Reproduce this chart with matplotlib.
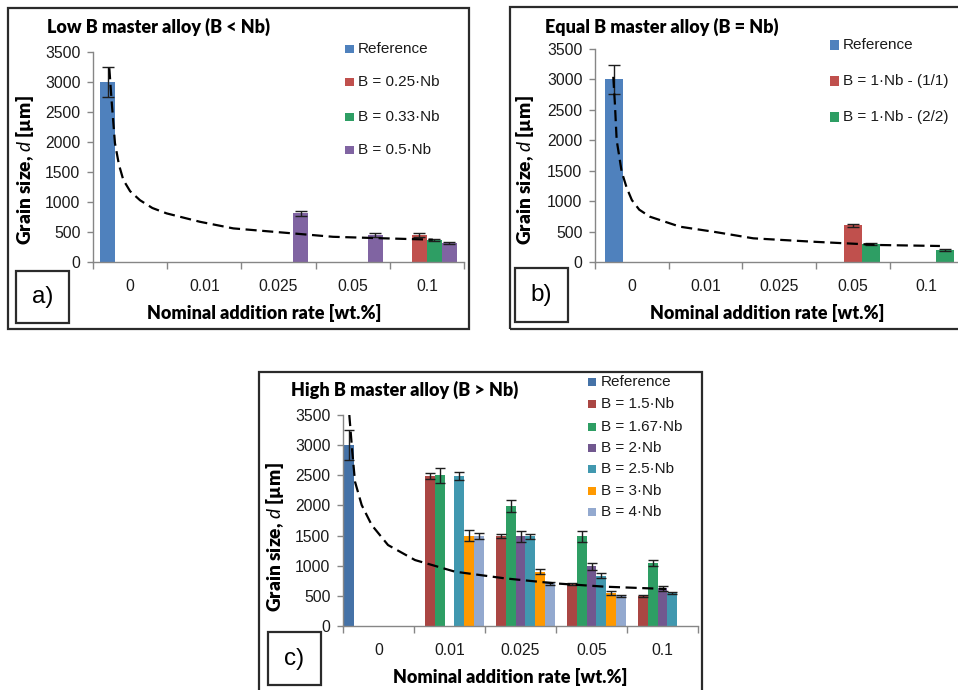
import numpy as np
import matplotlib
matplotlib.use("Agg")
import matplotlib.pyplot as plt
from matplotlib.patches import Rectangle

# ---------------- data ----------------
categories = ["0", "0.01", "0.025", "0.05", "0.1"]
y_ticks = [0, 500, 1000, 1500, 2000, 2500, 3000, 3500]

# Panel a: Low B master alloy
a_labels = ["Reference", "B = 0.25·Nb", "B = 0.33·Nb", "B = 0.5·Nb"]
a_ref = [3000, None, None, None, None]
a_ref_err = [245, None, None, None, None]
a_b025 = [None, None, None, None, 450]
a_b025_err = [None, None, None, None, 30]
a_b033 = [None, None, None, None, 370]
a_b033_err = [None, None, None, None, 20]
a_b05 = [None, None, 810, 450, 320]
a_b05_err = [None, None, 45, 35, 20]
a_trend_x = [-0.28, -0.25, -0.204, -0.15, -0.092, 0.0, 0.133, 0.3, 0.493, 0.942, 1.391, 2.065, 2.735, 3.408, 4.08]
a_trend_y = [3230, 2700, 1980, 1620, 1370, 1180, 1030, 900, 810, 670, 560, 490, 420, 395, 372]

# Panel b: Equal B master alloy
b_labels = ["Reference", "B = 1·Nb - (1/1)", "B = 1·Nb - (2/2)"]
b_ref = [3000, None, None, None, None]
b_ref_err = [245, None, None, None, None]
b_11 = [None, None, None, 605, None]
b_11_err = [None, None, None, 25, None]
b_22 = [None, None, None, 295, 198]
b_22_err = [None, None, None, 15, 12]
b_trend_x = [-0.252, -0.23, -0.206, -0.138, -0.07, 0.0, 0.1, 0.246, 0.653, 1.105, 1.648, 2.462, 3.367, 4.18]
b_trend_y = [3043, 2600, 2003, 1483, 1220, 1018, 860, 744, 580, 498, 389, 333, 279, 263]

# Panel c: High B master alloy
c_labels = ["Reference", "B = 1.5·Nb", "B = 1.67·Nb", "B = 2·Nb", "B = 2.5·Nb", "B = 3·Nb", "B = 4·Nb"]
c_ref = [3000, None, None, None, None]
c_ref_err = [250, None, None, None, None]
c_b15 = [None, 2490, 1490, 692, 495]
c_b15_err = [None, 50, 30, 20, 12]
c_b167 = [None, 2500, 1995, 1490, 1040]
c_b167_err = [None, 120, 100, 90, 50]
c_b2 = [None, None, 1490, 988, 628]
c_b2_err = [None, None, 90, 65, 40]
c_b25 = [None, 2490, 1490, 832, 545]
c_b25_err = [None, 70, 40, 40, 20]
c_b3 = [None, 1495, 898, 548, None]
c_b3_err = [None, 90, 40, 35, None]
c_b4 = [None, 1490, 705, 497, None]
c_b4_err = [None, 55, 30, 10, None]
c_trend_x = [-0.411, -0.37, -0.331, -0.237, -0.096, 0.134, 0.514, 1.077, 1.782, 2.486, 3.19, 4.05]
c_trend_y = [3500, 2900, 2394, 2007, 1675, 1343, 1094, 901, 790, 707, 652, 614]

# ---------------- styling ----------------
W, H = 958, 690
fig = plt.figure(figsize=(W / 100, H / 100), dpi=100)
plt.rcParams['mathtext.fontset'] = 'custom'
plt.rcParams['mathtext.it'] = 'Lato:italic'
plt.rcParams['mathtext.rm'] = 'Lato'

TICK_FONT = ['Liberation Sans', 'DejaVu Sans']
BOLD_FONT = ['Lato', 'DejaVu Sans']
AXIS_GRAY = '#868686'
TICK_SIZE = 11.3
LEG_SIZE = 11
BOLD_SIZE = 13


def fx(px):
    return px / W


def fy(py):
    return 1 - py / H


def to_arr(vals):
    return np.array([np.nan if v is None else v for v in vals], dtype=float)


def frame(x0, y0, x1, y1):
    fig.add_artist(Rectangle((fx(x0), fy(y1)), fx(x1) - fx(x0), fy(y0) - fy(y1),
                             transform=fig.transFigure, fill=False, ec='#2b2b2b', lw=1.6))


def label_box(x0, y0, x1, y1, txt):
    fig.add_artist(Rectangle((fx(x0), fy(y1)), fx(x1) - fx(x0), fy(y0) - fy(y1),
                             transform=fig.transFigure, fill=False, ec='#2b2b2b', lw=1.6))
    fig.text(fx((x0 + x1) / 2), fy((y0 + y1) / 2), txt, ha='center', va='center',
             family=TICK_FONT, fontsize=17.5)


def panel(left, right, top, bottom, series, errs, colors, gap, tx, ty, capsize):
    ax = fig.add_axes([fx(left), fy(bottom), fx(right) - fx(left), fy(top) - fy(bottom)])
    ax.patch.set_alpha(0)
    n = len(series)
    w = 1.0 / (n + gap)
    xi = np.arange(len(categories))
    for s, (vals, err, col) in enumerate(zip(series, errs, colors)):
        x = xi - 0.5 + gap * w / 2 + (s + 0.5) * w
        v = to_arr(vals)
        e = to_arr(err)
        ax.bar(x, v, width=w, color=col, linewidth=0, zorder=2)
        ax.errorbar(x, v, yerr=e, fmt='none', ecolor='#1e1e1e', elinewidth=1.0,
                    capsize=capsize, capthick=1.0, zorder=4)
    ax.plot(tx, ty, color='black', lw=1.6, ls=(0, (5, 2.5)), zorder=5)
    ax.set_xlim(-0.5, len(categories) - 0.5)
    ax.set_ylim(0, 3500)
    ax.set_yticks(y_ticks)
    ax.set_xticks(xi)
    ax.set_xticklabels(categories)
    ax.set_xticks(np.arange(-0.5, len(categories), 1.0), minor=True)
    ax.tick_params(axis='x', which='major', length=0, pad=12, labelsize=TICK_SIZE)
    ax.tick_params(axis='x', which='minor', length=5, width=1, color=AXIS_GRAY, direction='out')
    ax.tick_params(axis='y', length=4, width=1, color=AXIS_GRAY, pad=5, labelsize=TICK_SIZE)
    for lab in ax.get_xticklabels() + ax.get_yticklabels():
        lab.set_family(TICK_FONT)
        lab.set_color('#1a1a1a')
    for sp in ['top', 'right']:
        ax.spines[sp].set_visible(False)
    for sp in ['left', 'bottom']:
        ax.spines[sp].set_color(AXIS_GRAY)
        ax.spines[sp].set_linewidth(1.0)
    return ax


def legend(labels, colors, sq_x, txt_x, rows, sq):
    for lab, col, r in zip(labels, colors, rows):
        fig.add_artist(Rectangle((fx(sq_x), fy(r + sq / 2)), sq / W, sq / H,
                                 transform=fig.transFigure, fc=col, ec='none'))
        fig.text(fx(txt_x), fy(r), lab, ha='left', va='center', family=TICK_FONT,
                 fontsize=LEG_SIZE, color='#1a1a1a')


def ylabel(x, y):
    fig.text(fx(x), fy(y), "Grain size, $d$ [µm]", rotation=90, ha='center', va='center',
             family=BOLD_FONT, fontweight='heavy', fontsize=13.8)


def xlabel(x, y):
    fig.text(fx(x), fy(y), "Nominal addition rate [wt.%]", ha='center', va='center',
             family=BOLD_FONT, fontweight='heavy', fontsize=BOLD_SIZE)


def title(x, y, txt):
    fig.text(fx(x), fy(y), txt, ha='left', va='center', family=BOLD_FONT,
             fontweight='heavy', fontsize=BOLD_SIZE)


# ---------------- panel a ----------------
a_colors = ['#4F81BD', '#C0504D', '#2E9E64', '#8064A2']
frame(8, 8, 469, 329)
panel(93, 464, 52, 262, [a_ref, a_b025, a_b033, a_b05],
      [a_ref_err, a_b025_err, a_b033_err, a_b05_err], a_colors, 0.95,
      a_trend_x, a_trend_y, 4.5)
title(47, 27, "Low B master alloy (B < Nb)")
ylabel(25, 170)
xlabel(264, 313)
legend(a_labels, a_colors, 345, 358, [49, 82, 117, 150], 8.5)
label_box(16, 271, 69, 323, "a)")

# ---------------- panel b ----------------
b_colors = ['#4F81BD', '#C0504D', '#2E9E64']
frame(510, 7, 975, 329)
panel(595, 963.5, 49, 262, [b_ref, b_11, b_22],
      [b_ref_err, b_11_err, b_22_err], b_colors, 1.1,
      b_trend_x, b_trend_y, 4.5)
title(545, 27, "Equal B master alloy (B = Nb)")
ylabel(525, 170)
xlabel(767, 313)
legend(b_labels, b_colors, 830, 843, [45, 81, 117], 9)
label_box(515, 268, 568, 322, "b)")

# ---------------- panel c ----------------
c_colors = ['#4572A7', '#AA4643', '#2E9E64', '#71588F', '#4198AF', '#FF9900', '#93A9CF']
frame(259, 372, 702, 705)
panel(343, 698, 415, 626, [c_ref, c_b15, c_b167, c_b2, c_b25, c_b3, c_b4],
      [c_ref_err, c_b15_err, c_b167_err, c_b2_err, c_b25_err, c_b3_err, c_b4_err],
      c_colors, 0.24, c_trend_x, c_trend_y, 3.5)
title(291, 390, "High B master alloy (B > Nb)")
ylabel(275, 537)
xlabel(510, 677)
legend(c_labels, c_colors, 588, 601, [382, 404, 427, 448, 469, 491, 512], 7.7)
label_box(268, 632, 321, 685, "c)")

fig.savefig("out.png", dpi=100)
